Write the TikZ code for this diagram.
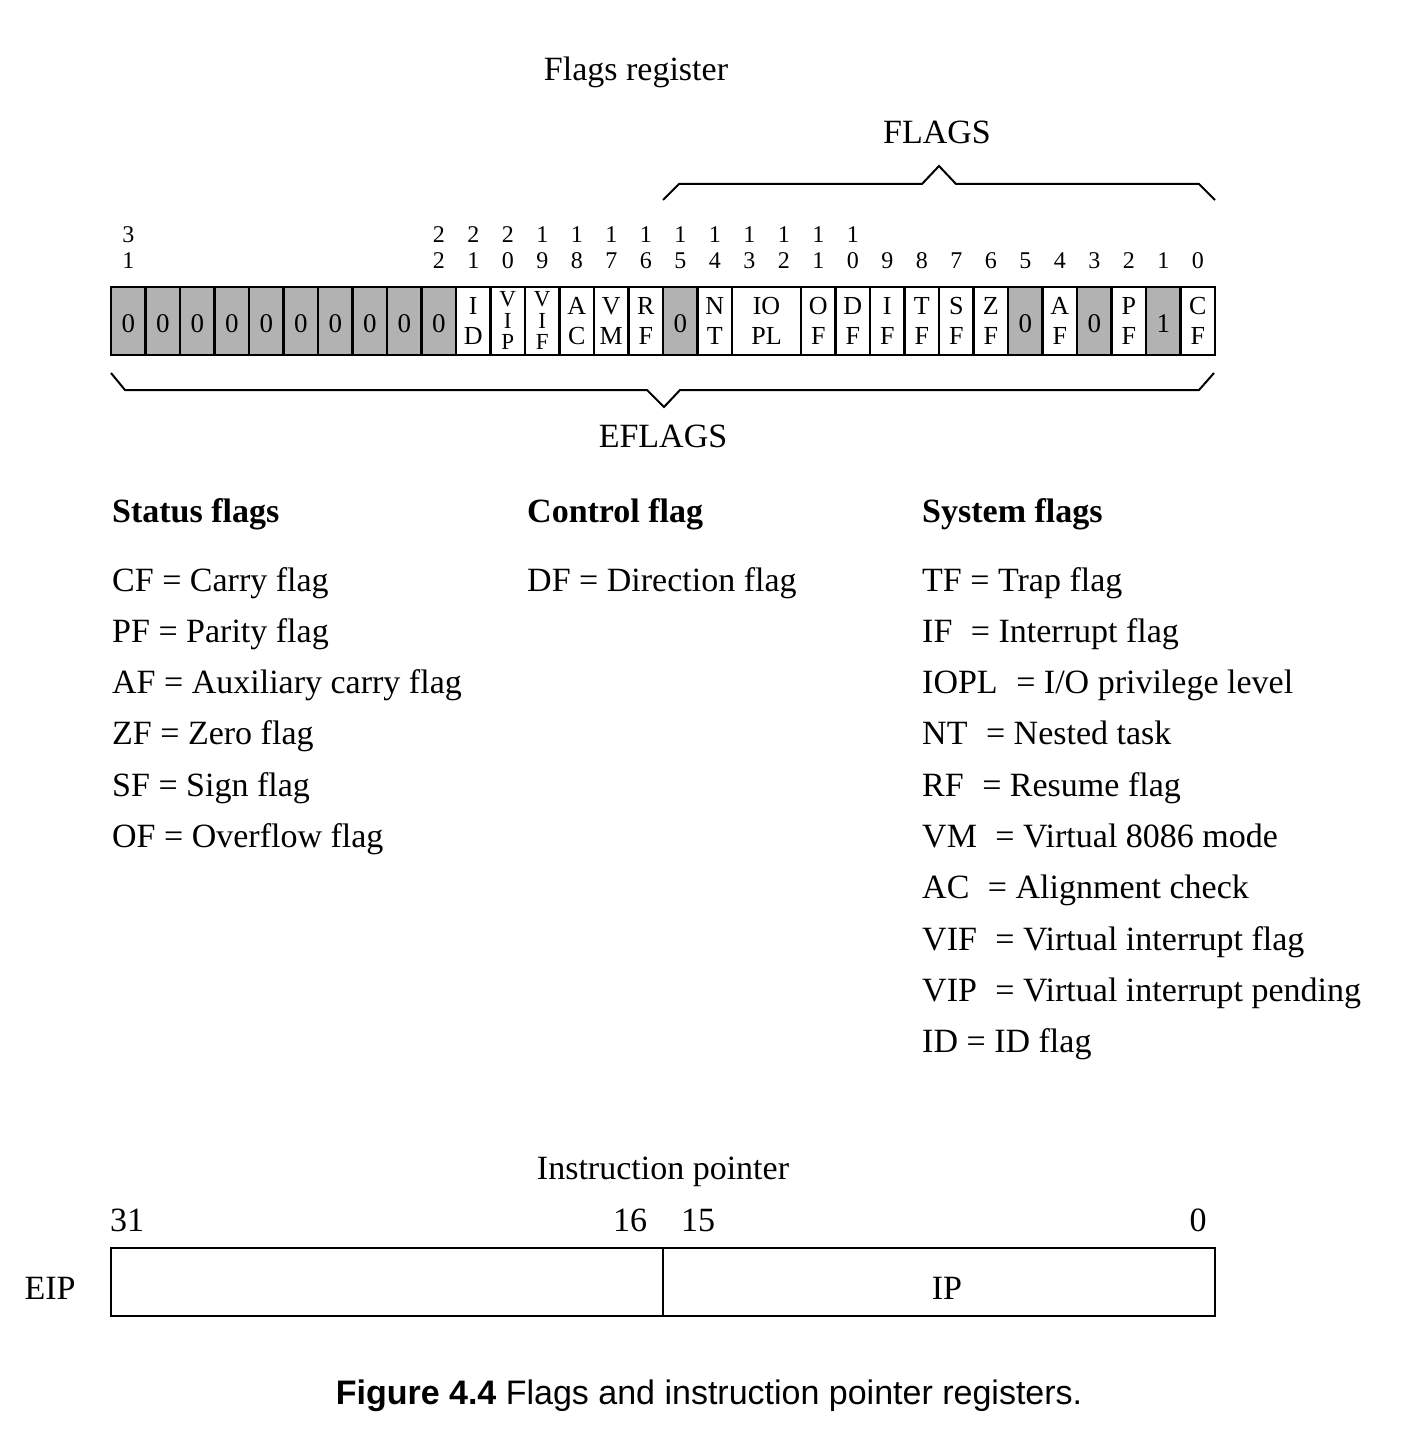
\documentclass[tikz,border=0pt]{standalone}
\usepackage{fontspec}
\setmainfont{Liberation Serif}
\newfontfamily\capfont{Liberation Sans}
\newcommand\xs{\hspace{10pt}}
\begin{document}
\begin{tikzpicture}[x=1pt,y=-1pt,
  txt/.style={anchor=base,inner sep=0pt,font=\fontsize{34}{40}\selectfont},
  lst/.style={anchor=base west,inner sep=0pt,font=\fontsize{34}{40}\selectfont},
  hdr/.style={anchor=base west,inner sep=0pt,font=\fontsize{34}{40}\selectfont\bfseries},
  bitn/.style={anchor=base,inner sep=0pt,font=\fontsize{24}{26}\selectfont},
  zerot/.style={anchor=base,inner sep=0pt,font=\fontsize{27}{30}\selectfont},
  twor/.style={anchor=center,inner sep=0pt,align=center,font=\fontsize{26}{30}\selectfont},
  threer/.style={anchor=center,inner sep=0pt,align=center,font=\fontsize{23}{21.5}\selectfont},
  reg/.style={line width=2.5pt},
  brace/.style={line width=2pt,line join=miter},
  grayc/.style={fill=black!30}]
\useasboundingbox (0,0) rectangle (1404,1442);
\def\L{111}\def\W{34.5}
% title
\node[txt] (title) at (636,81) {Flags register};
% FLAGS brace
\node[txt] (flags) at (937,144) {FLAGS};
\draw[brace] (663,200) -- (679,184) -- (922,184) -- (939,166) -- (956,184) -- (1199,184) -- (1215,200);
% gray cells
\foreach \b in {31,30,29,28,27,26,25,24,23,22,15,5,3,1}
  \fill[grayc] ({\L+(31-\b)*\W},287) rectangle ++(\W,68);
% dividers
\foreach \k in {1,...,18,20,21,...,31}
  \draw[reg] ({\L+\k*\W},287) -- ({\L+\k*\W},355);
\draw[reg] (\L,287) rectangle (1215,355);
% zeros and one
\foreach \b in {31,30,29,28,27,26,25,24,23,22,15,5,3}
  \node[zerot] (z\b) at ({\L+(31-\b)*\W+\W/2},332) {0};
\node[zerot] (one1) at ({\L+30*\W+\W/2},332) {1};
% two-row cells
\foreach \b/\u/\l in {21/I/D,18/A/C,17/V/M,16/R/F,14/N/T,11/O/F,10/D/F,9/I/F,8/T/F,7/S/F,6/Z/F,4/A/F,2/P/F,0/C/F}
  \node[twor] (f\b) at ({\L+(31-\b)*\W+\W/2},321) {\u\\\l};
\node[twor] (fio) at ({\L+19*\W},321) {IO\\PL};
% three-row cells
\node[threer] (f20) at ({\L+11*\W+\W/2},320.5) {V\\I\\P};
\node[threer] (f19) at ({\L+12*\W+\W/2},320.5) {V\\I\\F};
% bit numbers
\foreach \b/\t/\o in {31/3/1,22/2/2,21/2/1,20/2/0,19/1/9,18/1/8,17/1/7,16/1/6,15/1/5,14/1/4,13/1/3,12/1/2,11/1/1,10/1/0}{
  \node[bitn] (bt\b) at ({\L+(31-\b)*\W+\W/2},242) {\t};
  \node[bitn] (bo\b) at ({\L+(31-\b)*\W+\W/2},268) {\o};
}
\foreach \b in {9,...,0}
  \node[bitn] (bs\b) at ({\L+(31-\b)*\W+\W/2},268) {\b};
% EFLAGS brace
\draw[brace] (111,373) -- (125,390) -- (647,390) -- (664,407) -- (680,390) -- (1199,390) -- (1214,373);
\node[txt] (eflags) at (663,447) {EFLAGS};
% lists
\node[hdr] (hs) at (112,522) {Status flags};
\node[hdr] (hc) at (527,522) {Control flag};
\node[hdr] (hy) at (922,522) {System flags};
\def\sp{51.3}
\foreach \k/\t in {0/{CF = Carry flag},1/{PF = Parity flag},2/{AF = Auxiliary carry flag},3/{ZF = Zero flag},4/{SF = Sign flag},5/{OF = Overflow flag}}
  \node[lst] (s\k) at (112,{591+\k*\sp}) {\t};
\node[lst] (c0) at (527,591) {DF = Direction flag};
\foreach \k/\t in {0/{TF = Trap flag},1/{IF\xs{} = Interrupt flag},2/{IOPL\xs{} = I/O privilege level},3/{NT\xs{} = Nested task},4/{RF\xs{} = Resume flag},5/{VM\xs{} = Virtual 8086 mode},6/{AC\xs{} = Alignment check},7/{VIF\xs{} = Virtual interrupt flag},8/{VIP\xs{} = Virtual interrupt pending},9/{ID = ID flag}}
  \node[lst] (y\k) at (922,{591+\k*\sp}) {\t};
% instruction pointer
\node[txt] (iptitle) at (663,1179) {Instruction pointer};
\node[txt] (n31) at (127,1231) {31};
\node[txt] (n16) at (630,1231) {16};
\node[txt] (n15) at (698,1231) {15};
\node[txt] (n0) at (1198,1231) {0};
\draw[line width=2pt] (111,1248) rectangle (1215,1316);
\draw[line width=2pt] (663,1248) -- (663,1316);
\node[txt] (eip) at (50,1299) {EIP};
\node[txt] (ip) at (947,1299) {IP};
% caption
\node[anchor=base,inner sep=0pt,font=\capfont\fontsize{34}{40}\selectfont] (cap) at (709,1404) {\textbf{Figure 4.4} Flags and instruction pointer registers.};
\end{tikzpicture}
\end{document}
